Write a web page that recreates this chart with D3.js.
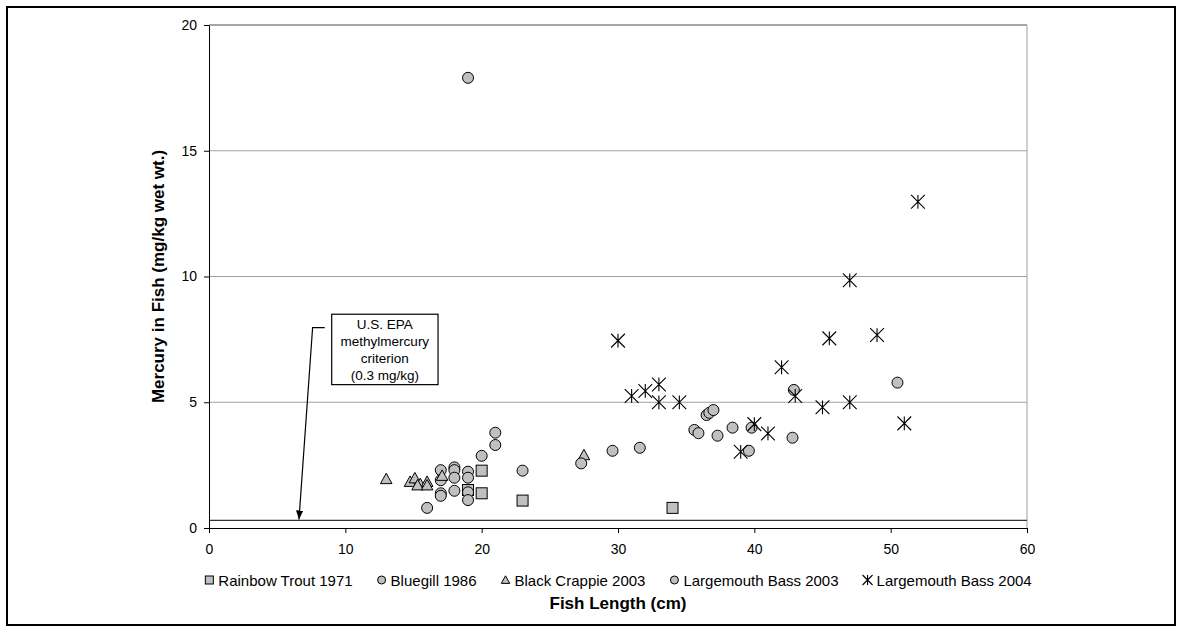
<!DOCTYPE html>
<html>
<head>
<meta charset="utf-8">
<script src="https://cdn.jsdelivr.net/npm/d3@7"></script>
<style>
  body { margin: 0; background: #fff; }
  svg { display: block; font-family: "Liberation Sans", Arial, sans-serif; }
</style>
</head>
<body>
<script>
// fish length (cm), mercury (mg/kg wet wt.)
var rainbowTrout1971 = [[19, 1.51], [20, 2.28], [20, 1.38], [23, 1.09], [34, 0.8]];
var bluegill1986 = [[16, 0.8], [17, 2.3], [17, 1.9], [17, 1.38], [17, 1.28], [18, 2.41], [18, 2.3], [18, 2.0],
  [18, 1.48], [19, 2.24], [19, 2.0], [19, 1.42], [19, 1.11], [20, 2.87], [21, 3.3], [21, 3.79], [23, 2.28], [19, 17.9]];
var blackCrappie2003 = [[13, 1.95], [14.75, 1.84], [15.1, 1.98], [15.5, 1.75], [16, 1.84], [15.3, 1.7], [16, 1.7],
  [17.1, 2.08], [27.5, 2.9]];
var largemouth2003 = [[27.3, 2.57], [29.6, 3.07], [31.6, 3.19], [35.6, 3.9], [35.9, 3.77], [36.5, 4.49], [36.7, 4.58],
  [37.0, 4.69], [37.3, 3.67], [38.4, 3.99], [39.8, 3.99], [39.6, 3.07], [42.8, 3.59], [42.9, 5.49], [50.5, 5.78]];
var largemouth2004 = [[52, 12.97], [47, 9.85], [30, 7.45], [45.5, 7.54], [49, 7.67], [42, 6.39], [31, 5.25], [32, 5.45],
  [33, 5.71], [33, 5.0], [34.5, 5.0], [43, 5.25], [45, 4.8], [47, 5.0], [51, 4.16], [40, 4.13], [41, 3.76], [39, 3.03]];

var seriesNames = ["Rainbow Trout 1971", "Bluegill 1986", "Black Crappie 2003", "Largemouth Bass 2003", "Largemouth Bass 2004"];
var seriesShapes = ["square", "circle", "triangle", "circle", "star"];
var xTicks = [0, 10, 20, 30, 40, 50, 60];
var yTicks = [0, 5, 10, 15, 20];
var epaCriterion = 0.3;
var noteLines = ["U.S. EPA", "methylmercury", "criterion", "(0.3 mg/kg)"];

var W = 1182, H = 631;
var svg = d3.select("body").append("svg").attr("width", W).attr("height", H);

// outer frame
svg.append("rect").attr("x", 7).attr("y", 7).attr("width", 1168).attr("height", 618)
  .attr("fill", "none").attr("stroke", "#000").attr("stroke-width", 2);

var x = d3.scaleLinear().domain([0, 60]).range([209, 1027]);
var y = d3.scaleLinear().domain([0, 20]).range([528, 25]);

// gridlines
svg.append("g").selectAll("line").data(yTicks.filter(function (d) { return d > 0; })).enter()
  .append("line")
  .attr("x1", x(0)).attr("x2", x(60))
  .attr("y1", function (d) { return y(d); }).attr("y2", function (d) { return y(d); })
  .attr("stroke", function (d) { return d === 20 ? "#888" : "#a0a0a0"; })
  .attr("stroke-width", function (d) { return d === 20 ? 1.5 : 1; });
svg.append("line").attr("x1", x(60)).attr("x2", x(60)).attr("y1", y(20)).attr("y2", y(0))
  .attr("stroke", "#a0a0a0");

// EPA line
svg.append("line").attr("x1", x(0)).attr("x2", x(60))
  .attr("y1", y(epaCriterion)).attr("y2", y(epaCriterion))
  .attr("stroke", "#333").attr("stroke-width", 1.2);

// axes
var xAxis = svg.append("g").attr("transform", "translate(0," + y(0) + ")")
  .call(d3.axisBottom(x).tickValues(xTicks).tickSize(5).tickPadding(11).tickSizeOuter(0));
var yAxis = svg.append("g").attr("transform", "translate(" + x(0) + ",0)")
  .call(d3.axisLeft(y).tickValues(yTicks).tickSize(5).tickPadding(7).tickSizeOuter(0));
[xAxis, yAxis].forEach(function (g) {
  g.select(".domain").attr("stroke", "#000");
  g.selectAll(".tick line").attr("stroke", "#000");
  g.selectAll("text").attr("font-size", 14).attr("fill", "#000").attr("font-family", "Liberation Sans, Arial, sans-serif");
});

// markers
function drawMarker(sel, shape, s) {
  if (shape === "circle") {
    sel.append("circle").attr("r", s).attr("fill", "#c0c0c0").attr("stroke", "#000").attr("stroke-width", 1);
  } else if (shape === "square") {
    sel.append("rect").attr("x", -s).attr("y", -s).attr("width", 2 * s).attr("height", 2 * s)
      .attr("fill", "#c0c0c0").attr("stroke", "#000").attr("stroke-width", 1);
  } else if (shape === "triangle") {
    sel.append("path").attr("d", "M0," + (-s * 1.05) + "L" + (s * 1.05) + "," + (s * 0.85) + "L" + (-s * 1.05) + "," + (s * 0.85) + "Z")
      .attr("fill", "#c0c0c0").attr("stroke", "#000").attr("stroke-width", 1);
  } else if (shape === "star") {
    var a = s * 1.25;
    sel.append("path").attr("d", "M" + (-a) + "," + (-a) + "L" + a + "," + a + "M" + a + "," + (-a) + "L" + (-a) + "," + a +
      "M0," + (-a) + "L0," + a)
      .attr("fill", "none").attr("stroke", "#000").attr("stroke-width", 1.1);
  }
}

var allSeries = [rainbowTrout1971, bluegill1986, blackCrappie2003, largemouth2003, largemouth2004];
allSeries.forEach(function (data, i) {
  svg.append("g").selectAll("g").data(data).enter().append("g")
    .attr("transform", function (d) { return "translate(" + x(d[0]) + "," + y(d[1]) + ")"; })
    .each(function () { drawMarker(d3.select(this), seriesShapes[i], 5.5); });
});

// annotation box + arrow (data units)
var note = { x0: 9.0, x1: 16.8, y0: 8.5, y1: 5.7, elbowX: 7.6, elbowY: 7.97, tipX: 6.6 };
svg.append("rect").attr("x", x(note.x0)).attr("y", y(note.y0))
  .attr("width", x(note.x1) - x(note.x0)).attr("height", y(note.y1) - y(note.y0))
  .attr("fill", "#fff").attr("stroke", "#000").attr("stroke-width", 1.2);
var noteText = svg.append("text").attr("text-anchor", "middle").attr("font-size", 13.5).attr("fill", "#000");
noteLines.forEach(function (t, i) {
  noteText.append("tspan").attr("x", (x(note.x0) + x(note.x1)) / 2)
    .attr("y", y(note.y0) + 15 + i * 17).text(t);
});
svg.append("defs").append("marker").attr("id", "arr").attr("viewBox", "0 0 10 10")
  .attr("refX", 10).attr("refY", 5).attr("markerWidth", 9).attr("markerHeight", 9)
  .attr("markerUnits", "userSpaceOnUse").attr("orient", "auto")
  .append("path").attr("d", "M0,1L10,5L0,9Z").attr("fill", "#000");
svg.append("path")
  .attr("d", "M" + (x(note.x0) - 7) + "," + y(note.elbowY) + "L" + x(note.elbowX) + "," + y(note.elbowY) +
    "L" + x(note.tipX) + "," + (y(epaCriterion) - 1))
  .attr("fill", "none").attr("stroke", "#000").attr("stroke-width", 1.2).attr("marker-end", "url(#arr)");

// axis titles
svg.append("text").attr("x", (x(0) + x(60)) / 2).attr("y", 609).attr("text-anchor", "middle")
  .attr("font-size", 17).attr("font-weight", "bold").text("Fish Length (cm)");
svg.append("text").attr("transform", "translate(164," + (y(0) + y(20)) / 2 + ") rotate(-90)")
  .attr("text-anchor", "middle").attr("font-size", 17).attr("font-weight", "bold")
  .text("Mercury in Fish (mg/kg wet wt.)");

// legend
var legend = svg.append("g");
var lx = 0, gap = 29;
seriesNames.forEach(function (name, i) {
  var item = legend.append("g").attr("transform", "translate(" + lx + ",0)");
  drawMarker(item.append("g"), seriesShapes[i], 4);
  var t = item.append("text").attr("x", 9).attr("y", 5.5).attr("font-size", 15).attr("fill", "#000").text(name);
  lx += 9 + t.node().getComputedTextLength() + gap;
});
var lw = lx - gap + 5;
legend.attr("transform", "translate(" + ((x(0) + x(60)) / 2 - lw / 2 + 5) + ",580)");
</script>
</body>
</html>
